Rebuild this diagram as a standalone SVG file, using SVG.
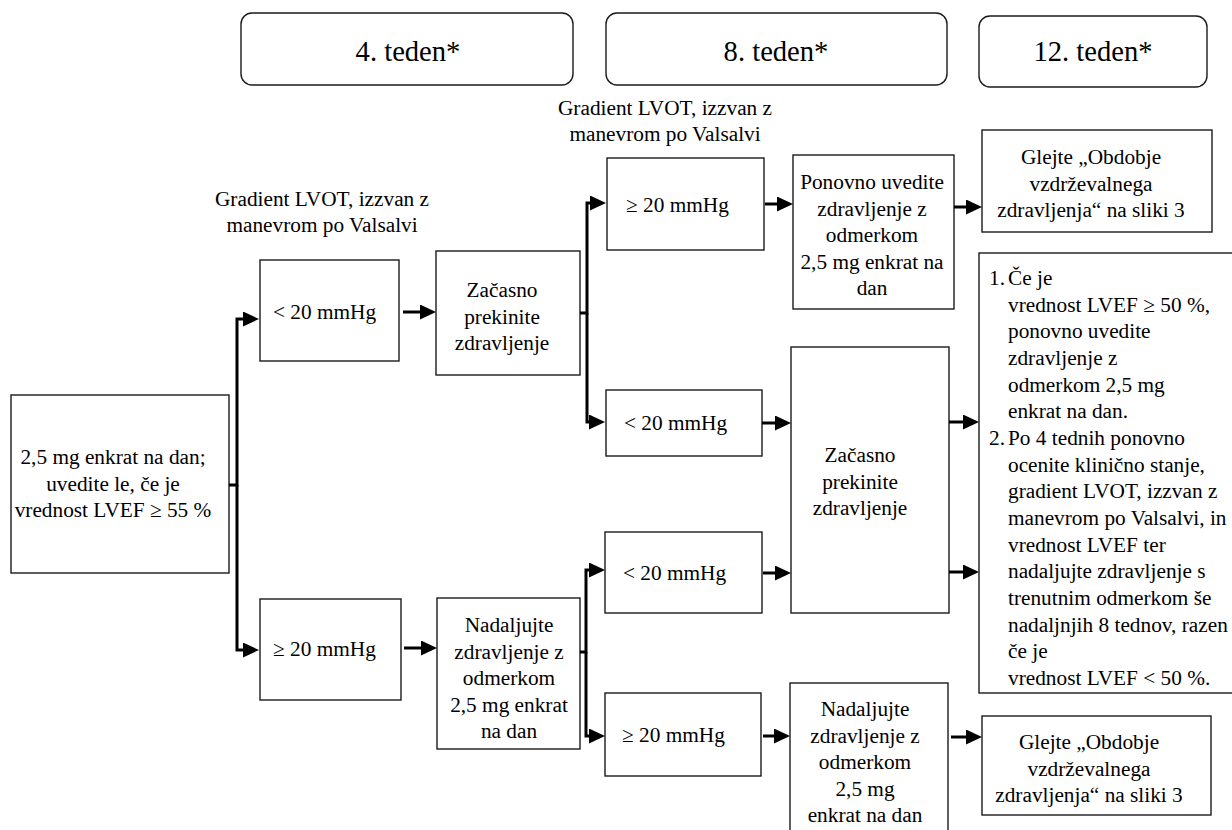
<svg xmlns="http://www.w3.org/2000/svg" width="1232" height="830" viewBox="0 0 1232 830">
<style>
text{font-family:"Liberation Serif","Times New Roman",serif;fill:#000;}
.t{font-size:21.3px;}
.h{font-size:28.6px;}
.c{text-anchor:middle;}
.box{fill:#fff;stroke:#1a1a1a;stroke-width:1.4;}
.hd{fill:#fff;stroke:#1a1a1a;stroke-width:1.4;}
.cn{fill:none;stroke:#000;stroke-width:3;}
</style>
<defs>
<marker id="ah" markerUnits="userSpaceOnUse" markerWidth="16" markerHeight="15" viewBox="0 0 16 15" refX="10" refY="7.5" orient="auto">
<path d="M0,0 L16,7.5 L0,15 Z" fill="#000"/>
</marker>
</defs>
<rect width="1232" height="830" fill="#fff"/>

<g id="h4"><rect class="hd" x="241" y="13" width="332" height="72" rx="11"/><text class="h c" x="408" y="61">4. teden*</text></g>
<g id="h8"><rect class="hd" x="606" y="13" width="341" height="72" rx="11"/><text class="h c" x="776" y="61">8. teden*</text></g>
<g id="h12"><rect class="hd" x="979" y="16" width="228" height="71" rx="11"/><text class="h c" x="1093" y="61">12. teden*</text></g>

<g id="lab1"><text class="t c" x="322" y="206">Gradient LVOT, izzvan z</text><text class="t c" x="322" y="232">manevrom po Valsalvi</text></g>
<g id="lab2"><text class="t c" x="665" y="115">Gradient LVOT, izzvan z</text><text class="t c" x="665" y="141">manevrom po Valsalvi</text></g>

<g id="start"><rect class="box" x="11" y="395" width="218" height="178"/>
<text class="t c" x="113" y="464">2,5 mg enkrat na dan;</text>
<text class="t c" x="113" y="490.5">uvedite le, če je</text>
<text class="t c" x="113" y="517">vrednost LVEF ≥ 55 %</text></g>

<g id="lt20a"><rect class="box" x="260" y="260" width="139" height="101"/><text class="t" x="273" y="319">&lt; 20 mmHg</text></g>

<g id="zacA"><rect class="box" x="436" y="251" width="144" height="124"/>
<text class="t c" x="502" y="297">Začasno</text>
<text class="t c" x="502" y="324">prekinite</text>
<text class="t c" x="502" y="350">zdravljenje</text></g>

<g id="ge20L"><rect class="box" x="260" y="599" width="141" height="101"/><text class="t" x="273" y="656">≥ 20 mmHg</text></g>

<g id="nadA"><rect class="box" x="437" y="598" width="143" height="151"/>
<text class="t c" x="509" y="632">Nadaljujte</text>
<text class="t c" x="509" y="658.5">zdravljenje z</text>
<text class="t c" x="509" y="685">odmerkom</text>
<text class="t c" x="509" y="711.5">2,5 mg enkrat</text>
<text class="t c" x="509" y="738">na dan</text></g>

<g id="ge20a"><rect class="box" x="607" y="158" width="157" height="92"/><text class="t" x="626" y="212">≥ 20 mmHg</text></g>

<g id="ponovno"><rect class="box" x="793" y="155" width="161" height="154"/>
<text class="t c" x="872" y="189">Ponovno uvedite</text>
<text class="t c" x="872" y="215.5">zdravljenje z</text>
<text class="t c" x="872" y="242">odmerkom</text>
<text class="t c" x="872" y="268.5">2,5 mg enkrat na</text>
<text class="t c" x="872" y="295">dan</text></g>

<g id="glejA"><rect class="box" x="982" y="130" width="230" height="102"/>
<text class="t c" x="1091" y="164">Glejte „Obdobje</text>
<text class="t c" x="1091" y="190.5">vzdrževalnega</text>
<text class="t c" x="1091" y="217">zdravljenja“ na sliki 3</text></g>

<g id="lt20b"><rect class="box" x="606" y="390" width="156" height="66"/><text class="t" x="624" y="430">&lt; 20 mmHg</text></g>

<g id="zacB"><rect class="box" x="791" y="347" width="158" height="266"/>
<text class="t c" x="860" y="462">Začasno</text>
<text class="t c" x="860" y="488.5">prekinite</text>
<text class="t c" x="860" y="515">zdravljenje</text></g>

<g id="lt20c"><rect class="box" x="605" y="532" width="157" height="81"/><text class="t" x="623" y="580">&lt; 20 mmHg</text></g>

<g id="ge20c"><rect class="box" x="605" y="693" width="156" height="83"/><text class="t" x="622" y="742">≥ 20 mmHg</text></g>

<g id="nadB"><rect class="box" x="790" y="683" width="158" height="160"/>
<text class="t c" x="865" y="716">Nadaljujte</text>
<text class="t c" x="865" y="742.5">zdravljenje z</text>
<text class="t c" x="865" y="769">odmerkom</text>
<text class="t c" x="865" y="795.5">2,5 mg</text>
<text class="t c" x="865" y="822">enkrat na dan</text></g>

<g id="glejB"><rect class="box" x="982" y="716" width="229" height="99"/>
<text class="t c" x="1089" y="749">Glejte „Obdobje</text>
<text class="t c" x="1089" y="775.5">vzdrževalnega</text>
<text class="t c" x="1089" y="802">zdravljenja“ na sliki 3</text></g>

<g id="right"><rect class="box" x="979" y="253" width="270" height="440"/>
<text class="t" x="989" y="285">1.</text><text class="t" x="1008" y="285">Če je</text>
<text class="t" x="1008" y="311.7">vrednost LVEF ≥ 50 %,</text>
<text class="t" x="1008" y="338.3">ponovno uvedite</text>
<text class="t" x="1008" y="365">zdravljenje z</text>
<text class="t" x="1008" y="391.7">odmerkom 2,5 mg</text>
<text class="t" x="1008" y="418.3">enkrat na dan.</text>
<text class="t" x="989" y="445">2.</text><text class="t" x="1008" y="445">Po 4 tednih ponovno</text>
<text class="t" x="1008" y="471.7">ocenite klinično stanje,</text>
<text class="t" x="1008" y="498.3">gradient LVOT, izzvan z</text>
<text class="t" x="1008" y="525">manevrom po Valsalvi, in</text>
<text class="t" x="1008" y="551.7">vrednost LVEF ter</text>
<text class="t" x="1008" y="578.3">nadaljujte zdravljenje s</text>
<text class="t" x="1008" y="605">trenutnim odmerkom še</text>
<text class="t" x="1008" y="631.7">nadaljnjih 8 tednov, razen</text>
<text class="t" x="1008" y="658.3">če je</text>
<text class="t" x="1008" y="685">vrednost LVEF &lt; 50 %.</text></g>

<g id="connectors">
<path class="cn" d="M229,485 H237 V319 H253" marker-end="url(#ah)"/>
<path class="cn" d="M237,485 V650 H253" marker-end="url(#ah)"/>
<path class="cn" d="M403,312 H430" marker-end="url(#ah)"/>
<path class="cn" d="M580,313 H587 V203 H600" marker-end="url(#ah)"/>
<path class="cn" d="M587,313 V422 H599" marker-end="url(#ah)"/>
<path class="cn" d="M765,204 H787" marker-end="url(#ah)"/>
<path class="cn" d="M954,207 H976" marker-end="url(#ah)"/>
<path class="cn" d="M762,423 H785" marker-end="url(#ah)"/>
<path class="cn" d="M949,422 H973" marker-end="url(#ah)"/>
<path class="cn" d="M949,572 H973" marker-end="url(#ah)"/>
<path class="cn" d="M404,648 H431" marker-end="url(#ah)"/>
<path class="cn" d="M580,652 H586 V570 H599" marker-end="url(#ah)"/>
<path class="cn" d="M586,652 V736 H599" marker-end="url(#ah)"/>
<path class="cn" d="M763,573 H785" marker-end="url(#ah)"/>
<path class="cn" d="M763,736 H784" marker-end="url(#ah)"/>
<path class="cn" d="M951,737 H976" marker-end="url(#ah)"/>
</g>
</svg>
